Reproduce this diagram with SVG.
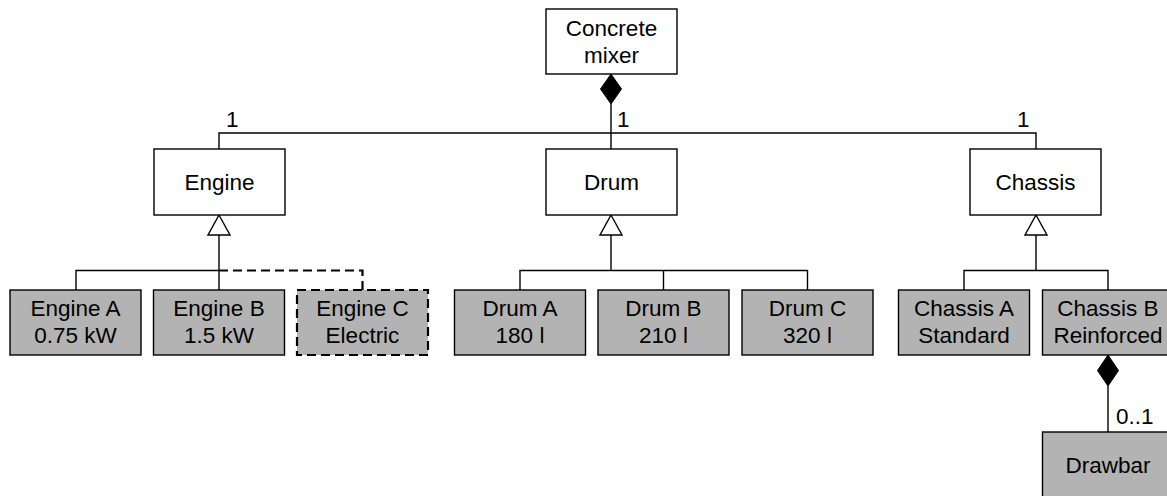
<svg xmlns="http://www.w3.org/2000/svg" width="1167" height="496" viewBox="0 0 1167 496">
<style>
.box{fill:#fff;stroke:#000;stroke-width:1.4}
.sub{fill:#b3b3b3;stroke:#000;stroke-width:1.4}
.dsub{fill:#b3b3b3;stroke:#000;stroke-width:2.2;stroke-dasharray:9,5}
.ln{fill:none;stroke:#000;stroke-width:1.4}
.dl{fill:none;stroke:#000;stroke-width:2.2;stroke-dasharray:9,5}
.tri{fill:#fff;stroke:#000;stroke-width:1.4}
.dia{fill:#000;stroke:#000;stroke-width:1}
text{font-family:"Liberation Sans",Arial,sans-serif;font-size:22.5px;fill:#000;text-anchor:middle}
.lbl{text-anchor:start}
</style>
<rect width="1167" height="496" fill="#fff"/>
<g id="connectors">
<path class="ln" d="M219,149V133H1036V149M611,104V149"/>
<polygon class="dia" points="611,74 621.5,89 611,104 600.5,89"/>
<text class="lbl" x="226" y="127">1</text>
<text class="lbl" x="617" y="127">1</text>
<text class="lbl" x="1017" y="127">1</text>
<path class="ln" d="M219,235V290M76,290V270.5H219"/>
<path class="dl" d="M219,270.5H362.5V290"/>
<polygon class="tri" points="219,215 230,235 208,235"/>
<path class="ln" d="M611,235V270.5M520,290V270.5H807.5V290M663.5,270.5V290"/>
<polygon class="tri" points="611,215 622,235 600,235"/>
<path class="ln" d="M1036,235V270.5M964,290V270.5H1108V290"/>
<polygon class="tri" points="1036,215 1047,235 1025,235"/>
<path class="ln" d="M1108,386V432"/>
<polygon class="dia" points="1108,355 1118.5,370.5 1108,386 1097.5,370.5"/>
<text class="lbl" x="1116" y="424">0..1</text>
</g>
<g id="mixer"><rect class="box" x="546" y="9" width="131" height="65"/><text x="611.5" y="35.5">Concrete</text><text x="611.5" y="63">mixer</text></g>
<g id="engine"><rect class="box" x="154" y="149" width="131" height="66"/><text x="219.5" y="189.5">Engine</text></g>
<g id="drum"><rect class="box" x="546" y="149" width="131" height="66"/><text x="611.5" y="189.5">Drum</text></g>
<g id="chassis"><rect class="box" x="970" y="149" width="131" height="66"/><text x="1035.5" y="189.5">Chassis</text></g>
<g id="engineA"><rect class="sub" x="10" y="290" width="131" height="65"/><text x="75.5" y="316">Engine A</text><text x="75.5" y="343">0.75 kW</text></g>
<g id="engineB"><rect class="sub" x="153.5" y="290" width="131" height="65"/><text x="219" y="316">Engine B</text><text x="219" y="343">1.5 kW</text></g>
<g id="engineC"><rect class="dsub" x="297" y="290" width="131" height="65"/><text x="362.5" y="316">Engine C</text><text x="362.5" y="343">Electric</text></g>
<g id="drumA"><rect class="sub" x="454.5" y="290" width="131" height="65"/><text x="520" y="316">Drum A</text><text x="520" y="343">180 l</text></g>
<g id="drumB"><rect class="sub" x="598" y="290" width="131" height="65"/><text x="663.5" y="316">Drum B</text><text x="663.5" y="343">210 l</text></g>
<g id="drumC"><rect class="sub" x="742" y="290" width="131" height="65"/><text x="807.5" y="316">Drum C</text><text x="807.5" y="343">320 l</text></g>
<g id="chassisA"><rect class="sub" x="898.5" y="290" width="131" height="65"/><text x="964" y="316">Chassis A</text><text x="964" y="343">Standard</text></g>
<g id="chassisB"><rect class="sub" x="1042.5" y="290" width="131" height="65"/><text x="1108" y="316">Chassis B</text><text x="1108" y="343">Reinforced</text></g>
<g id="drawbar"><rect class="sub" x="1042.5" y="432" width="131" height="65"/><text x="1108" y="473">Drawbar</text></g>
</svg>
